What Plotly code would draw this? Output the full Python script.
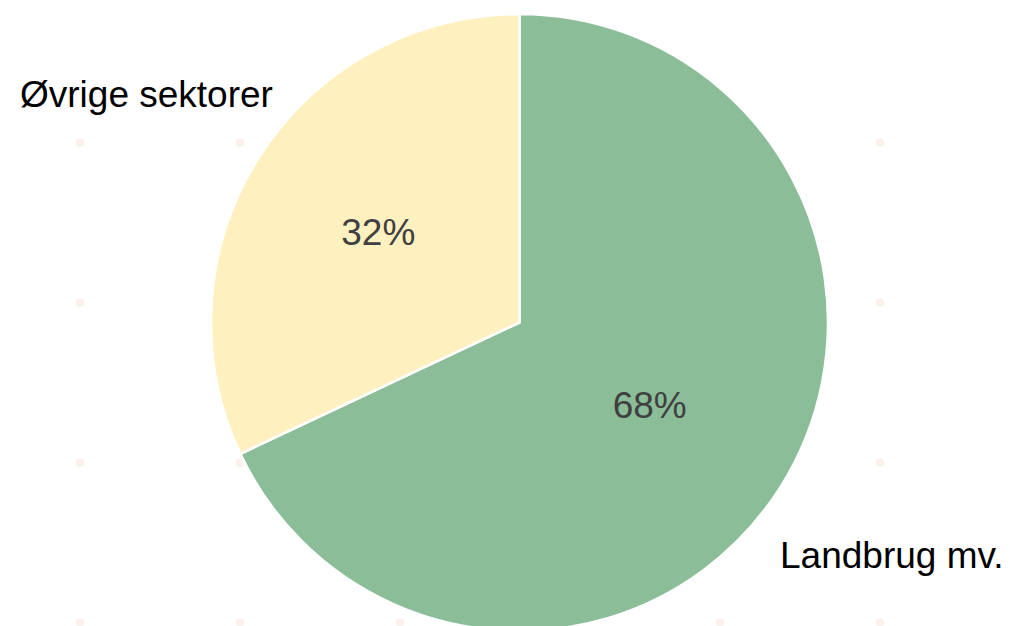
import plotly.graph_objects as go

# Data
categories = ["Landbrug mv.", "Øvrige sektorer"]
shares = [68, 32]
colors = ["#8BBE98", "#FFF0C0"]

W, H = 1010, 626
OFF = 8  # page body margin offset

fig = go.Figure(
    go.Pie(
        labels=categories,
        values=shares,
        sort=False,
        direction="clockwise",
        rotation=0,
        marker=dict(colors=colors, line=dict(color="white", width=2.5)),
        textinfo="percent",
        textposition="inside",
        insidetextorientation="horizontal",
        textfont=dict(family="Liberation Sans, Arial", size=37, color="#404040"),
        texttemplate="%{percent:.0%}",
        showlegend=False,
        hoverinfo="label+percent",
        domain=dict(x=[100 / W, 923 / W], y=[3 / H, 620 / H]),
    )
)

# Faint background dot grid (screen pixel positions)
dot_xs = [80, 240, 400, 560, 720, 880]
dot_ys = [143, 303, 463, 623]
shapes = []
r = 4.5
for sx in dot_xs:
    for sy in dot_ys:
        px, py = sx - OFF, sy - OFF
        shapes.append(dict(
            type="circle", xref="paper", yref="paper", layer="below",
            x0=(px - r) / W, x1=(px + r) / W,
            y0=1 - (py + r) / H, y1=1 - (py - r) / H,
            fillcolor="#F9F3EE", line=dict(width=0),
        ))

# Category labels placed outside the pie (screen pixel positions)
label_pos = {
    "Øvrige sektorer": (18, 95),
    "Landbrug mv.": (778, 555),
}
annotations = []
for name in categories:
    sx, sy = label_pos[name]
    annotations.append(dict(
        text=name, x=(sx - OFF) / W, y=1 - (sy - OFF) / H,
        xref="paper", yref="paper",
        xanchor="left", yanchor="middle", showarrow=False,
        font=dict(family="Liberation Sans, Arial", size=37, color="#000000"),
    ))

fig.update_layout(
    width=W, height=H,
    margin=dict(l=0, r=0, t=0, b=0),
    paper_bgcolor="white",
    plot_bgcolor="white",
    shapes=shapes,
    annotations=annotations,
)

fig.write_html("out.html")
